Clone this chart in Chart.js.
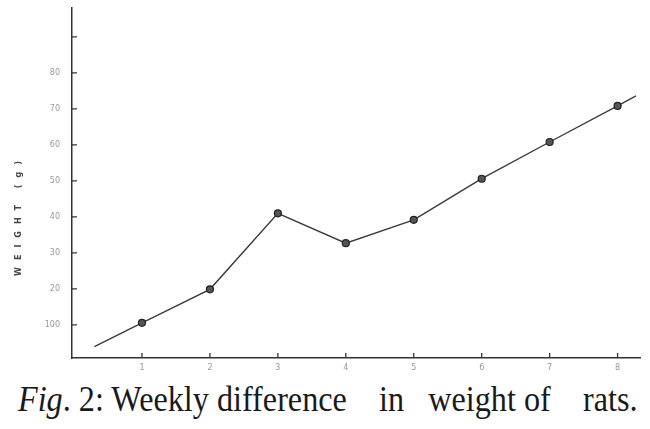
<!DOCTYPE html>
<html>
<head>
<meta charset="utf-8">
<script src="https://cdn.jsdelivr.net/npm/chart.js@4"></script>
<style>
  html, body { margin: 0; padding: 0; background: #fff; }
  #wrap { position: relative; width: 650px; height: 429px; overflow: hidden; }
  #c { position: absolute; left: 0; top: 0; }
  #cap { position: absolute; left: 18px; top: 382px; font-family: "Liberation Serif", serif; font-size: 35px; line-height: 35px; color: #1a1a1a; white-space: pre; transform: scaleX(0.92); transform-origin: left top; }
</style>
</head>
<body>
<div id="wrap">
  <canvas id="c" width="650" height="375" style="width:650px;height:375px"></canvas>
  <div id="cap"><i>Fig</i>. 2: Weekly difference    in   weight of    rats.</div>
</div>
<script>
const weeks = [0.3, 1, 2, 3, 4, 5, 6, 7, 8, 8.27];
const weight = [4.0, 10.6, 19.9, 41.0, 32.7, 39.2, 50.6, 60.8, 70.8, 73.6];
const markerShown = [0, 1, 1, 1, 1, 1, 1, 1, 1, 0];
const xTicks = [1, 2, 3, 4, 5, 6, 7, 8];
const yTicks = [10, 20, 30, 40, 50, 60, 70, 80, 90];
const yTickLabels = ["100", "20", "30", "40", "50", "60", "70", "80", ""];
const yTitle = "WEIGHT (g)";

const points = weeks.map((w, i) => ({ x: w, y: weight[i] }));

const innerTicks = {
  id: 'innerTicks',
  afterDraw(chart) {
    const ctx = chart.ctx;
    const xs = chart.scales.x, ys = chart.scales.y;
    ctx.save();
    ctx.strokeStyle = '#333';
    ctx.lineWidth = 1.3;
    ctx.beginPath();
    xTicks.forEach(v => {
      const px = xs.getPixelForValue(v);
      ctx.moveTo(px, ys.bottom); ctx.lineTo(px, ys.bottom - 5);
    });
    yTicks.forEach(v => {
      const py = ys.getPixelForValue(v);
      ctx.moveTo(xs.left, py); ctx.lineTo(xs.left + 5, py);
    });
    ctx.stroke();
    // y axis title
    ctx.translate(19, 218);
    ctx.rotate(-Math.PI / 2);
    ctx.font = 'bold 8px "DejaVu Sans"';
    ctx.letterSpacing = '7px';
    ctx.fillStyle = '#444';
    ctx.textAlign = 'center';
    ctx.textBaseline = 'middle';
    ctx.fillText(yTitle, 3, 0);
    ctx.restore();
  }
};

new Chart(document.getElementById('c'), {
  type: 'line',
  data: {
    datasets: [{
      data: points,
      borderColor: '#3a3a3a',
      borderWidth: 1.4,
      pointRadius: markerShown.map(m => m ? 3.5 : 0),
      pointBackgroundColor: '#555',
      pointBorderColor: '#222',
      pointBorderWidth: 1.2,
      tension: 0,
      fill: false
    }]
  },
  options: {
    responsive: false,
    animation: false,
    events: [],
    layout: { padding: { left: 0, right: 10, top: 8, bottom: 0 } },
    plugins: { legend: { display: false }, tooltip: { enabled: false } },
    scales: {
      x: {
        type: 'linear',
        min: -0.03,
        max: 8.33,
        afterBuildTicks(scale) { scale.ticks = xTicks.map(v => ({ value: v })); },
        afterFit(scale) { scale.height = 17; scale.paddingLeft = 0; scale.paddingRight = 0; },
        grid: { display: false, drawTicks: false },
        border: { display: true, color: '#333', width: 1.5 },
        ticks: { color: '#999', font: { family: 'DejaVu Sans', size: 8 }, padding: 5, maxRotation: 0,
                 callback: v => String(v) }
      },
      y: {
        type: 'linear',
        min: 0.83,
        max: 98,
        afterBuildTicks(scale) { scale.ticks = yTicks.map(v => ({ value: v })); },
        afterFit(scale) { scale.width = 72; scale.paddingTop = 0; scale.paddingBottom = 0; },
        grid: { display: false, drawTicks: false },
        border: { display: true, color: '#333', width: 1.5 },
        ticks: { color: '#999', font: { family: 'DejaVu Sans', size: 8 }, padding: 12,
                 callback: (v) => { const i = yTicks.indexOf(v); return i >= 0 ? yTickLabels[i] : ''; } }
      }
    }
  },
  plugins: [innerTicks]
});
</script>
</body>
</html>
